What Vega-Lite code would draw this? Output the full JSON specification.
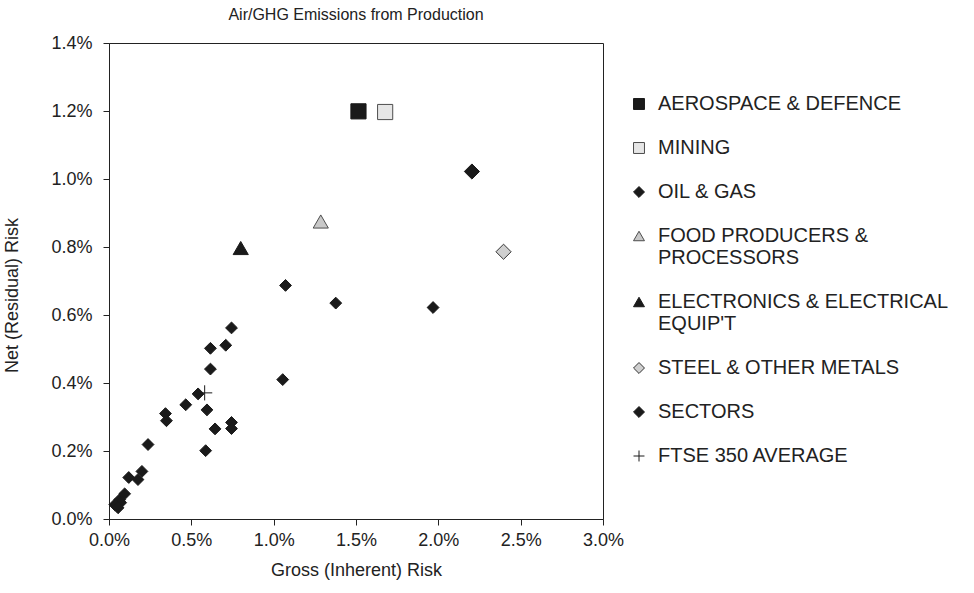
{
  "$schema": "https://vega.github.io/schema/vega-lite/v6.json",
  "width": 494,
  "height": 476,
  "autosize": "none",
  "padding": {"left": 109, "top": 43, "right": 371, "bottom": 74},
  "background": "white",
  "config": {
    "font": "Liberation Sans",
    "view": {"stroke": "#222222", "strokeWidth": 1},
    "axis": {"grid": false, "domainColor": "#222222", "tickColor": "#222222", "labelColor": "#222222", "titleColor": "#222222", "labelFont": "Liberation Sans", "titleFont": "Liberation Sans", "labelFontSize": 18, "titleFontSize": 18, "titleFontWeight": "normal", "tickSize": 6, "labelFlush": false},
    "legend": {"orient": "right", "offset": -25, "padding": 51, "labelFontSize": 20, "labelFont": "Liberation Sans", "labelColor": "#222222", "labelLimit": 400, "labelOffset": 9, "symbolSize": 120, "symbolStrokeWidth": 1, "rowPadding": 24}
  },
  "title": {"text": "Air/GHG Emissions from Production", "fontSize": 16, "fontWeight": "normal", "color": "#222222", "font": "Liberation Sans", "offset": 11},
  "data": {"values": [
    {"x": 0.01515, "y": 0.01199, "cat": "AEROSPACE & DEFENCE"},
    {"x": 0.01677, "y": 0.01197, "cat": "MINING"},
    {"x": 0.02204, "y": 0.01022, "cat": "OIL & GAS"},
    {"x": 0.01286, "y": 0.00875, "cat": "FOOD PRODUCERS & PROCESSORS"},
    {"x": 0.00800, "y": 0.00797, "cat": "ELECTRONICS & ELECTRICAL EQUIP'T"},
    {"x": 0.02396, "y": 0.00786, "cat": "STEEL & OTHER METALS"},
    {"x": 0.01072, "y": 0.00687, "cat": "SECTORS"},
    {"x": 0.01377, "y": 0.00635, "cat": "SECTORS"},
    {"x": 0.01968, "y": 0.00622, "cat": "SECTORS"},
    {"x": 0.00744, "y": 0.00562, "cat": "SECTORS"},
    {"x": 0.00616, "y": 0.00502, "cat": "SECTORS"},
    {"x": 0.00709, "y": 0.00511, "cat": "SECTORS"},
    {"x": 0.00616, "y": 0.00441, "cat": "SECTORS"},
    {"x": 0.01055, "y": 0.00410, "cat": "SECTORS"},
    {"x": 0.00541, "y": 0.00368, "cat": "SECTORS"},
    {"x": 0.00466, "y": 0.00336, "cat": "SECTORS"},
    {"x": 0.00595, "y": 0.00321, "cat": "SECTORS"},
    {"x": 0.00343, "y": 0.00310, "cat": "SECTORS"},
    {"x": 0.00349, "y": 0.00289, "cat": "SECTORS"},
    {"x": 0.00744, "y": 0.00284, "cat": "SECTORS"},
    {"x": 0.00744, "y": 0.00266, "cat": "SECTORS"},
    {"x": 0.00644, "y": 0.00265, "cat": "SECTORS"},
    {"x": 0.00237, "y": 0.00219, "cat": "SECTORS"},
    {"x": 0.00587, "y": 0.00201, "cat": "SECTORS"},
    {"x": 0.00200, "y": 0.00140, "cat": "SECTORS"},
    {"x": 0.00176, "y": 0.00116, "cat": "SECTORS"},
    {"x": 0.00120, "y": 0.00122, "cat": "SECTORS"},
    {"x": 0.00095, "y": 0.00074, "cat": "SECTORS"},
    {"x": 0.00065, "y": 0.00057, "cat": "SECTORS"},
    {"x": 0.00071, "y": 0.00048, "cat": "SECTORS"},
    {"x": 0.00035, "y": 0.00042, "cat": "SECTORS"},
    {"x": 0.00055, "y": 0.00033, "cat": "SECTORS"},
    {"x": 0.00581, "y": 0.00371, "cat": "FTSE 350 AVERAGE"}
  ]},
  "encoding": {
    "x": {"field": "x", "type": "quantitative", "scale": {"domain": [0, 0.03], "nice": false, "zero": true},
      "axis": {"format": ".1%", "values": [0, 0.005, 0.01, 0.015, 0.02, 0.025, 0.03], "title": "Gross (Inherent) Risk", "labelPadding": 6, "titlePadding": 12}},
    "y": {"field": "y", "type": "quantitative", "scale": {"domain": [0, 0.014], "nice": false},
      "axis": {"format": ".1%", "values": [0, 0.002, 0.004, 0.006, 0.008, 0.01, 0.012, 0.014], "title": "Net (Residual) Risk", "labelPadding": 11, "titleX": -88, "titleY": 252}},
    "shape": {"field": "cat", "type": "nominal",
      "scale": {"domain": ["AEROSPACE & DEFENCE", "MINING", "OIL & GAS", "FOOD PRODUCERS & PROCESSORS", "ELECTRONICS & ELECTRICAL EQUIP'T", "STEEL & OTHER METALS", "SECTORS", "FTSE 350 AVERAGE"],
        "range": ["square", "square", "diamond", "triangle-up", "triangle-up", "diamond", "diamond", "M-1,0H1M0,-1V1"]},
      "legend": {"title": null,
        "labelExpr": "datum.label == 'FOOD PRODUCERS & PROCESSORS' ? ['FOOD PRODUCERS &','PROCESSORS'] : datum.label == \"ELECTRONICS & ELECTRICAL EQUIP'T\" ? ['ELECTRONICS & ELECTRICAL', \"EQUIP'T\"] : datum.label",
        "encode": {"labels": {"update": {"baseline": {"value": "alphabetic"}, "dy": {"value": 7}, "lineHeight": {"value": 25}}}}}},
    "fill": {"field": "cat", "type": "nominal",
      "scale": {"domain": ["AEROSPACE & DEFENCE", "MINING", "OIL & GAS", "FOOD PRODUCERS & PROCESSORS", "ELECTRONICS & ELECTRICAL EQUIP'T", "STEEL & OTHER METALS", "SECTORS", "FTSE 350 AVERAGE"],
        "range": ["#1a1a1a", "#e6e6e6", "#1a1a1a", "#c8c8c8", "#1a1a1a", "#cfcfcf", "#1a1a1a", "transparent"]},
      "legend": {"title": null}},
    "stroke": {"field": "cat", "type": "nominal",
      "scale": {"domain": ["AEROSPACE & DEFENCE", "MINING", "OIL & GAS", "FOOD PRODUCERS & PROCESSORS", "ELECTRONICS & ELECTRICAL EQUIP'T", "STEEL & OTHER METALS", "SECTORS", "FTSE 350 AVERAGE"],
        "range": ["#1a1a1a", "#4d4d4d", "#1a1a1a", "#4d4d4d", "#1a1a1a", "#333333", "#1a1a1a", "#1a1a1a"]},
      "legend": {"title": null}}
  },
  "layer": [
    {"transform": [{"filter": "datum.cat != 'SECTORS'"}],
     "mark": {"type": "point", "filled": true, "opacity": 1, "strokeWidth": 1, "size": 230}},
    {"transform": [{"filter": "datum.cat == 'SECTORS'"}],
     "mark": {"type": "point", "filled": true, "opacity": 1, "strokeWidth": 1, "size": 140}}
  ]
}
